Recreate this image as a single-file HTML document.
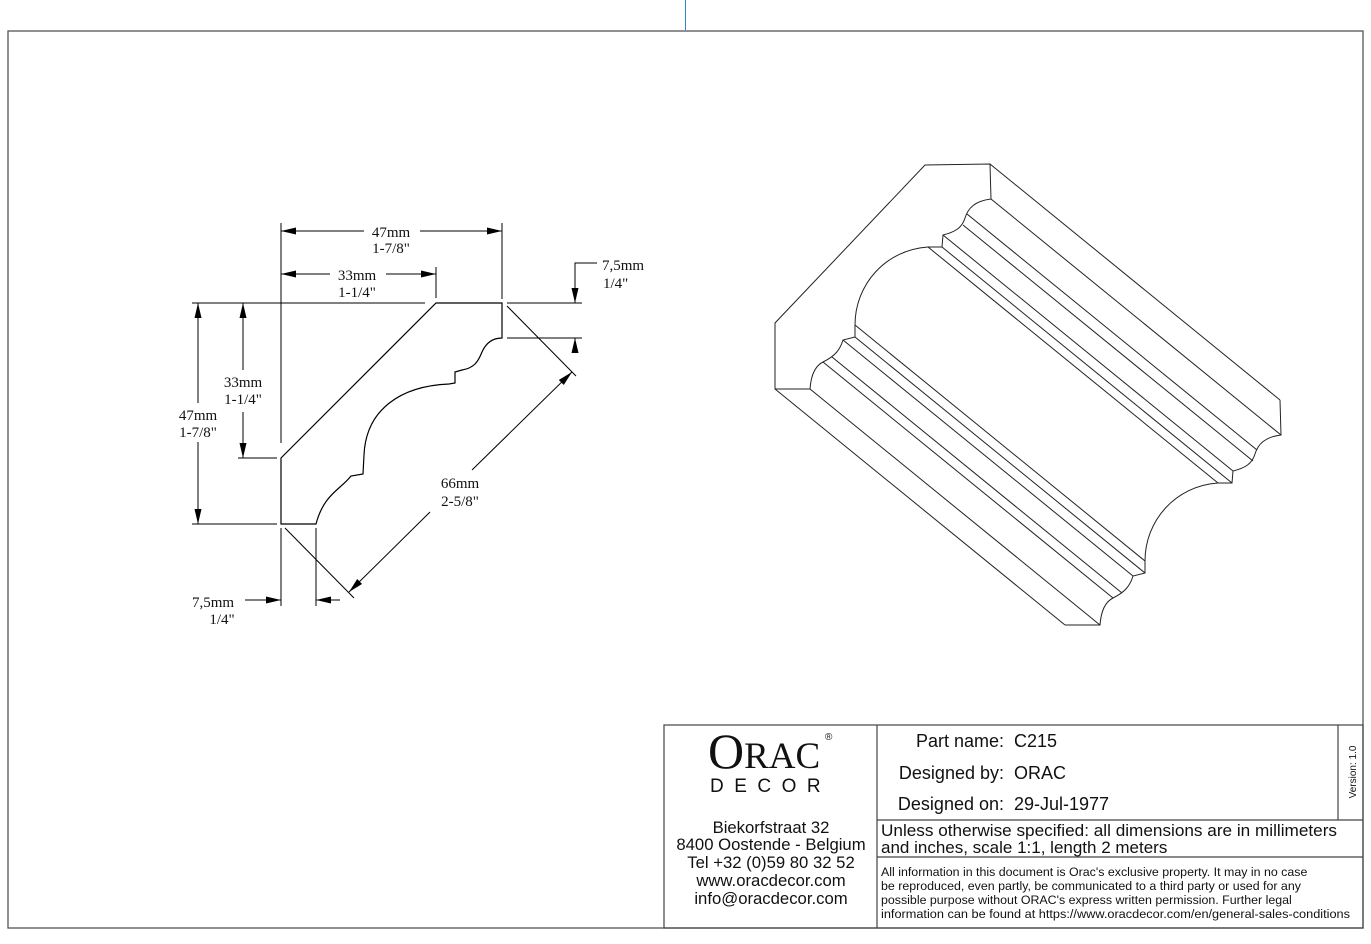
<!DOCTYPE html>
<html><head><meta charset="utf-8"><style>
html,body{margin:0;padding:0;background:#fff;}
body{width:1371px;height:944px;overflow:hidden;position:relative;}
svg{position:absolute;left:0;top:0;}
.t{font-family:"Liberation Serif",serif;font-size:15px;fill:#111;}
.s{font-family:"Liberation Sans",sans-serif;fill:#111;}
</style></head><body>
<svg width="1371" height="944" viewBox="0 0 1371 944" xmlns="http://www.w3.org/2000/svg">
<defs>
<marker id="a" viewBox="0 0 10 10" refX="10" refY="5" markerWidth="15" markerHeight="7" markerUnits="userSpaceOnUse" orient="auto-start-reverse" preserveAspectRatio="none"><path d="M0,0L10,5L0,10z" fill="#000"/></marker>
</defs>
<line x1="685.5" y1="0" x2="685.5" y2="30" stroke="#2a8ac0" stroke-width="1"/>
<rect x="8" y="31" width="1355" height="897" fill="none" stroke="#555" stroke-width="1.3"/>

<!-- 2D profile -->
<g fill="none" stroke="#000" stroke-width="1.2">
<path d="M281,458 L436,303 L502,303 L502,338 C492,338 486,343 482,352 C478,362 474,368 462,370 L455,372 L455,383 L449,384 C400,386 366,410 364,455 L363,474 L351,476 C340,490 324,494 316,524 L281,524 Z"/>
</g>
<g stroke="#000" stroke-width="1" fill="none">
<line x1="281" y1="223" x2="281" y2="443"/>
<line x1="281" y1="528" x2="281" y2="606"/>
<line x1="502" y1="223" x2="502" y2="299"/>
<line x1="436" y1="267" x2="436" y2="298"/>
<line x1="192" y1="303" x2="425" y2="303"/>
<line x1="507" y1="303" x2="582" y2="303"/>
<line x1="507" y1="338" x2="582" y2="338"/>
<line x1="192" y1="524" x2="277" y2="524"/>
<line x1="238" y1="458" x2="277" y2="458"/>
<line x1="316" y1="528" x2="316" y2="606"/>
<line x1="507" y1="306" x2="576" y2="376"/>
<line x1="285" y1="528" x2="354" y2="598"/>
<line x1="281" y1="231" x2="364" y2="231" marker-start="url(#a)"/>
<line x1="420" y1="231" x2="502" y2="231" marker-end="url(#a)"/>
<line x1="281" y1="274" x2="330" y2="274" marker-start="url(#a)"/>
<line x1="386" y1="274" x2="436" y2="274" marker-end="url(#a)"/>
<line x1="198" y1="303" x2="198" y2="403" marker-start="url(#a)"/>
<line x1="198" y1="442" x2="198" y2="524" marker-end="url(#a)"/>
<line x1="243" y1="303" x2="243" y2="370" marker-start="url(#a)"/>
<line x1="243" y1="412" x2="243" y2="458" marker-end="url(#a)"/>
<polyline points="597,263 575,263 575,303" marker-end="url(#a)"/>
<line x1="575" y1="353" x2="575" y2="338" marker-end="url(#a)"/>
<line x1="572" y1="372" x2="472" y2="470" marker-start="url(#a)"/>
<line x1="430" y1="512" x2="349" y2="592" marker-end="url(#a)"/>
<line x1="245" y1="600" x2="281" y2="600" marker-end="url(#a)"/>
<line x1="340" y1="600" x2="316" y2="600" marker-end="url(#a)"/>
</g>
<g class="t" text-anchor="middle">
<text x="391" y="237">47mm</text><text x="391" y="253">1-7/8"</text>
<text x="357" y="280">33mm</text><text x="357" y="297">1-1/4"</text>
<text x="198" y="420">47mm</text><text x="198" y="437">1-7/8"</text>
<text x="243" y="387">33mm</text><text x="243" y="404">1-1/4"</text>
<text x="460" y="488">66mm</text><text x="460" y="506">2-5/8"</text>
<text x="213" y="607">7,5mm</text><text x="222" y="624">1/4"</text>
</g>
<g class="t"><text x="602" y="270">7,5mm</text><text x="603" y="288">1/4"</text></g>

<!-- isometric -->
<g fill="none" stroke="#222" stroke-width="1">
<path d="M775,389 L775,323 L925,165 L990,164 L991,199 C975,201 968,208 965,218 C962,228 955,232 943,235 L942,247 L928,247 C885,250 855,285 855,325 L855,337 L843,340 C840,350 835,356 823,362 C815,366 811,375 810,389 Z"/>
<path d="M1280,400 L1281,435 C1265,437 1258,444 1255,454 C1252,464 1245,468 1233,471 L1232,483 L1218,483 C1175,486 1145,521 1145,561 L1145,573 L1133,576 C1130,586 1125,592 1113,598 C1105,602 1101,611 1100,625 L1065,625"/>
<line x1="990" y1="164" x2="1280" y2="400"/>
<line x1="991" y1="199" x2="1281" y2="435"/>
<line x1="967" y1="214" x2="1257" y2="450"/>
<line x1="963" y1="225" x2="1253" y2="461"/>
<line x1="943" y1="235" x2="1233" y2="471"/>
<line x1="942" y1="247" x2="1232" y2="483"/>
<line x1="928" y1="247" x2="1218" y2="483"/>
<line x1="855" y1="325" x2="1145" y2="561"/>
<line x1="855" y1="337" x2="1145" y2="573"/>
<line x1="843" y1="340" x2="1133" y2="576"/>
<line x1="832" y1="357" x2="1122" y2="593"/>
<line x1="823" y1="362" x2="1113" y2="598"/>
<line x1="810" y1="389" x2="1100" y2="625"/>
<line x1="775" y1="389" x2="1065" y2="625"/>
</g>

<!-- title block -->
<g fill="none" stroke="#444" stroke-width="1.2">
<rect x="664" y="725" width="699" height="203"/>
<line x1="877" y1="725" x2="877" y2="928"/>
<line x1="1338" y1="725" x2="1338" y2="820"/>
<line x1="877" y1="820" x2="1363" y2="820"/>
<line x1="877" y1="857" x2="1363" y2="857"/>
</g>
<text x="708" y="768" font-family="Liberation Serif,serif" font-size="50" fill="#111">O<tspan font-size="37">RAC</tspan></text>
<text x="825" y="740" class="s" font-size="10">®</text>
<text x="710" y="792" class="s" font-size="19" letter-spacing="10.5">DECOR</text>
<g class="s" font-size="16.7" text-anchor="middle">
<text x="771" y="833">Biekorfstraat 32</text>
<text x="771" y="850">8400 Oostende - Belgium</text>
<text x="771" y="868">Tel  +32 (0)59 80 32 52</text>
<text x="771" y="886">www.oracdecor.com</text>
<text x="771" y="904">info@oracdecor.com</text>
</g>
<g class="s" font-size="18" text-anchor="end">
<text x="1004" y="747">Part name:</text>
<text x="1004" y="779">Designed by:</text>
<text x="1004" y="810">Designed on:</text>
</g>
<g class="s" font-size="18">
<text x="1014" y="747">C215</text>
<text x="1014" y="779">ORAC</text>
<text x="1014" y="810">29-Jul-1977</text>
</g>
<g class="s" font-size="17">
<text x="881" y="836" textLength="456" lengthAdjust="spacingAndGlyphs">Unless otherwise specified: all dimensions are in millimeters</text>
<text x="881" y="853">and inches, scale 1:1, length 2 meters</text>
</g>
<g class="s" font-size="12.4">
<text x="881" y="876">All information in this document is Orac's exclusive property.  It may in no case</text>
<text x="881" y="890">be reproduced, even partly, be communicated to a third party or used for any</text>
<text x="881" y="904">possible purpose without ORAC's express written permission. Further legal</text>
<text x="881" y="918" textLength="469" lengthAdjust="spacingAndGlyphs">information can be found at https://www.oracdecor.com/en/general-sales-conditions</text>
</g>
<text class="s" font-size="10" text-anchor="middle" transform="translate(1356,772) rotate(-90)">Version: 1.0</text>
</svg>
</body></html>
